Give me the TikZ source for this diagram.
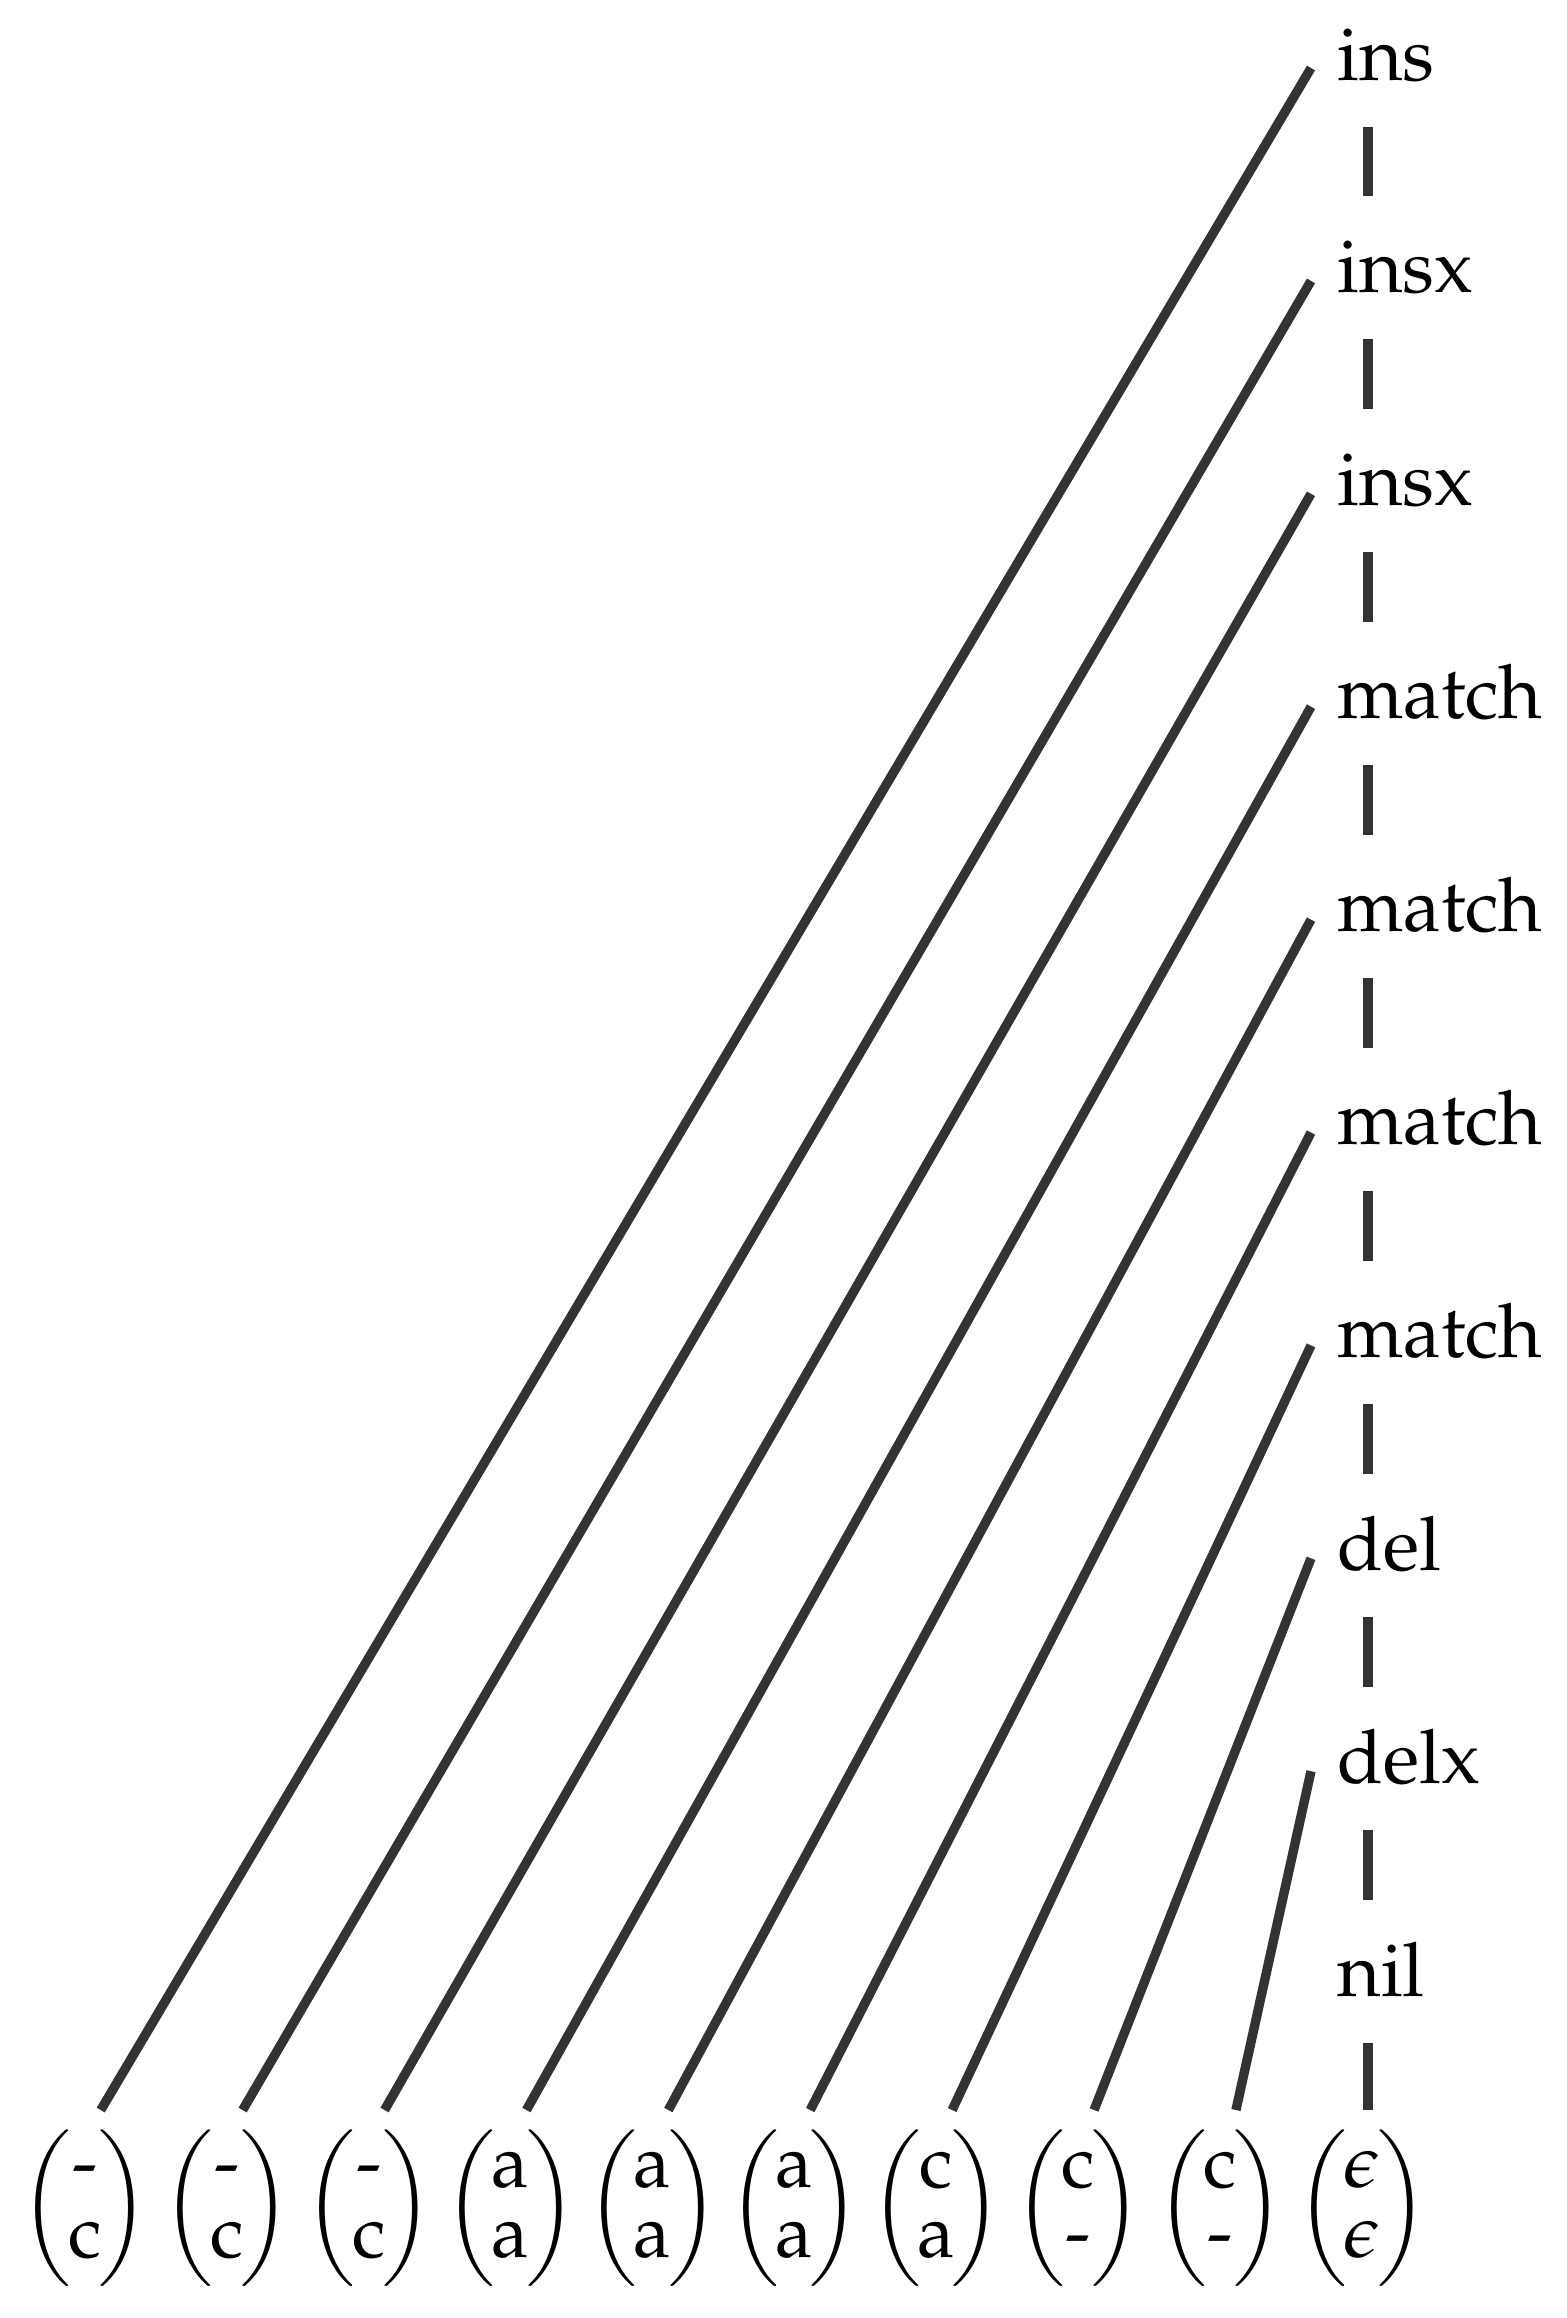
\documentclass[tikz,border=0pt]{standalone}
\usepackage[T1]{fontenc}
\usepackage{mathpazo}
\usepackage{amsmath}
\usepackage{graphicx}
\newcommand{\bpar}[1]{\vcenter{\hbox{\scalebox{0.9}[0.87]{$\bigg#1$}}}}
\newcommand{\pair}[2]{$\renewcommand{\arraystretch}{0.78}\bpar{(}\mkern-1mu\begin{matrix}#1\\#2\end{matrix}\mkern-1mu\bpar{)}$}
\tikzset{
  lab/.style={anchor=base west, text height=5.87pt, text depth=2.67pt},
  pr/.style={anchor=north, inner ysep=2pt},
  ln/.style={line width=1.25pt, black!80},
}
\begin{document}
\begin{tikzpicture}[x=0.13333pt, y=-0.13333pt]
  \useasboundingbox (0,0) rectangle (1567,2318);
  %% labels down the right
  \foreach \lab [count=\i] in {ins,insx,insx,match,match,match,match,del,delx,nil} {
    \node[lab] (l\i) at (1311, {80+212.9*(\i-1)}) {\lab}; }
  %% pairs along the bottom
  \foreach \up/\dn [count=\i] in {{\text{-}}/{\mathrm{c}},{\text{-}}/{\mathrm{c}},{\text{-}}/{\mathrm{c}},
      {\mathrm{a}}/{\mathrm{a}},{\mathrm{a}}/{\mathrm{a}},{\mathrm{a}}/{\mathrm{a}},{\mathrm{c}}/{\mathrm{a}},
      {\mathrm{c}}/{\text{-}},{\mathrm{c}}/{\text{-}},{\epsilon}/{\epsilon}} {
    \node[pr] (m\i) at ({85+141.9*(\i-1)}, 2110) {\pair{\up}{\dn}}; }
  \coordinate (spine) at (1368,0);
  %% edges
  \foreach \i in {1,...,9} {
    \draw[ln] ([xshift=2.1pt]m\i.north) -- (l\i.west); }
  \foreach \i [count=\j from 2] in {1,...,9} {
    \draw[ln, shorten >=3.47pt] (l\i.south -| spine) -- (l\j.north -| spine); }
  \draw[ln] (l10.south -| spine) -- (m10.north -| spine);
\end{tikzpicture}
\end{document}
